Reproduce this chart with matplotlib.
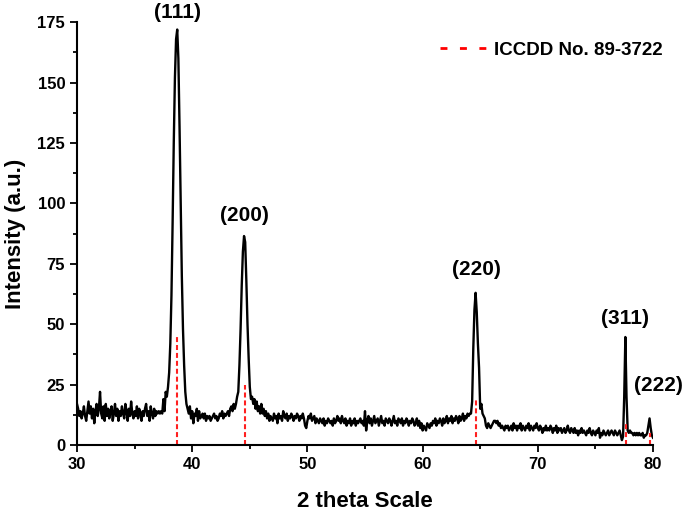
import matplotlib
matplotlib.use("Agg")
import matplotlib.pyplot as plt
import numpy as np
from matplotlib.lines import Line2D

# XRD pattern, 2theta 30..80 in 0.1 steps (one row per degree)
intensity = [
    17, 15, 12, 14, 11, 13, 16, 12, 10, 14,   # 30
    18, 13, 16, 11, 15, 9, 14, 17, 12, 15,    # 31
    22, 13, 11, 16, 10, 17, 12, 15, 11, 14,   # 32
    16, 10, 13, 17, 12, 15, 10, 14, 12, 16,   # 33
    13, 11, 17, 14, 10, 15, 12, 18, 13, 11,   # 34
    14, 12, 16, 11, 15, 13, 10, 14, 12, 15,   # 35
    17, 12, 14, 10, 16, 13, 11, 15, 12, 14,   # 36
    13, 14, 13, 14, 13, 19, 14, 22, 20, 24,   # 37
    30, 42, 62, 92, 125, 152, 168, 172, 160, 132,  # 38
    100, 70, 48, 33, 22, 17, 15, 13, 16, 11,  # 39
    14, 9, 13, 12, 15, 10, 14, 11, 12, 13,    # 40
    11, 13, 10, 12, 11, 12, 10, 11, 12, 13,   # 41
    11, 12, 10, 11, 13, 12, 14, 11, 13, 12,   # 42
    13, 14, 12, 15, 16, 14, 17, 15, 17, 20,   # 43
    22, 33, 48, 66, 80, 86.5, 84, 68, 50, 36,  # 44
    24, 19, 20, 17, 19, 15, 18, 14, 16, 13,   # 45
    17, 13, 15, 12, 14, 11, 13, 10, 12, 11,   # 46
    10, 13, 11, 12, 9, 13, 11, 12, 10, 14,    # 47
    12, 11, 13, 10, 12, 11, 13, 12, 10, 12,   # 48
    11, 13, 12, 10, 12, 11, 13, 11, 8, 7,     # 49
    10, 12, 11, 13, 10, 11, 12, 9, 11, 10,    # 50
    9, 11, 10, 9, 11, 8, 10, 9, 11, 10,       # 51
    9, 10, 8, 11, 9, 10, 12, 10, 11, 9,       # 52
    12, 10, 9, 11, 8, 10, 9, 11, 8, 10,       # 53
    9, 11, 8, 10, 9, 10, 11, 9, 10, 8,        # 54
    14, 6, 10, 12, 9, 11, 8, 10, 12, 9,       # 55
    10, 11, 8, 10, 12, 9, 10, 8, 11, 10,      # 56
    9, 11, 10, 8, 10, 12, 9, 10, 8, 11,       # 57
    10, 9, 11, 8, 10, 9, 11, 10, 8, 10,       # 58
    9, 11, 10, 8, 9, 11, 8, 10, 7, 9,         # 59
    6, 8, 7, 6, 9, 8, 7, 9, 8, 10,            # 60
    9, 11, 8, 10, 9, 11, 10, 8, 11, 9,        # 61
    10, 12, 9, 11, 10, 12, 9, 11, 10, 12,     # 62
    11, 9, 12, 10, 11, 13, 10, 12, 11, 13,    # 63
    12, 13, 13, 18, 40, 56, 63, 55, 42, 32,   # 64
    15, 17, 13, 12, 11, 8, 7, 9, 8, 7,        # 65
    8, 9, 10, 10, 9, 10, 8, 9, 7, 8,          # 66
    7, 6, 8, 7, 8, 6, 7, 8, 6, 9,             # 67
    7, 8, 6, 8, 7, 9, 6, 8, 7, 6,             # 68
    8, 7, 9, 6, 8, 7, 6, 8, 7, 9,             # 69
    7, 6, 8, 7, 5, 7, 6, 8, 6, 7,             # 70
    6, 8, 7, 5, 7, 6, 8, 5, 7, 6,             # 71
    7, 5, 6, 7, 5, 6, 8, 6, 5, 7,             # 72
    6, 5, 7, 5, 6, 4, 6, 5, 7, 5,             # 73
    6, 5, 4, 6, 5, 7, 5, 4, 6, 5,             # 74
    4, 6, 5, 7, 3, 5, 4, 6, 5, 4,             # 75
    5, 6, 4, 5, 6, 5, 4, 6, 5, 4,             # 76
    5, 6, 4, 2, 3.5, 20, 44.7, 20, 6, 5,      # 77
    6, 5, 5, 4, 5, 4, 5, 4, 5, 4,             # 78
    4, 5, 3, 4, 4, 5, 8, 11, 7, 4,            # 79
    3,                                        # 80
]
two_theta = np.round(np.arange(30.0, 80.05, 0.1), 1)

# ICCDD No. 89-3722 reference lines
ref_pos = [38.65, 44.55, 64.6, 77.65, 79.75]
ref_int = [45, 25, 18.6, 9.6, 5]

# peak labels
hkl = ["(111)", "(200)", "(220)", "(311)", "(222)"]
hkl_x = [38.7, 44.55, 64.65, 77.55, 80.45]
hkl_y = [179, 95, 72.5, 52.5, 24.5]

plt.rcParams["font.family"] = ["Liberation Sans", "DejaVu Sans"]
plt.rcParams["font.weight"] = "bold"

fig = plt.figure(figsize=(6.85, 5.17), dpi=100)
ax = fig.add_axes([0.1124, 0.1393, 0.8409, 0.8176])

ax.plot(two_theta, intensity, color="black", lw=1.7)
ax.vlines(ref_pos, 0, ref_int, colors="#ff2020", lw=1.5,
          linestyles=(0, (2.4, 1.4)))

for t, tx, ty in zip(hkl, hkl_x, hkl_y):
    ax.text(tx, ty, t, ha="center", va="center", fontsize=15,
            fontweight="bold", clip_on=False)

ax.set_xlim(30, 80)
ax.set_ylim(0, 175)
ax.set_xticks(np.arange(30, 81, 10))
ax.set_xticks(np.arange(35, 80, 10), minor=True)
ax.set_yticks(np.arange(0, 176, 25))
ax.set_yticks(np.arange(12.5, 175, 25), minor=True)
ax.tick_params(which="major", direction="out", length=5, width=1.3,
               labelsize=12)
ax.tick_params(which="minor", direction="out", length=3, width=1.3)
for lab in ax.get_xticklabels() + ax.get_yticklabels():
    lab.set_fontweight("bold")
for s in ["top", "right"]:
    ax.spines[s].set_visible(False)
for s in ["left", "bottom"]:
    ax.spines[s].set_linewidth(1.5)

ax.set_xlabel("2 theta Scale", fontsize=16, fontweight="bold", labelpad=14)
ax.set_ylabel("Intensity (a.u.)", fontsize=16, fontweight="bold", labelpad=8)

handle = Line2D([], [], color="red", lw=2, linestyle=(0, (2.5, 4.5)))
ax.legend([handle], ["ICCDD No. 89-3722"], loc="center left",
          bbox_to_anchor=(0.642, 0.903), bbox_transform=fig.transFigure,
          frameon=False, borderpad=0, borderaxespad=0, handlelength=2.6,
          handletextpad=0.3, prop={"size": 13.5, "weight": "bold"})

fig.savefig("out.png", dpi=100)
